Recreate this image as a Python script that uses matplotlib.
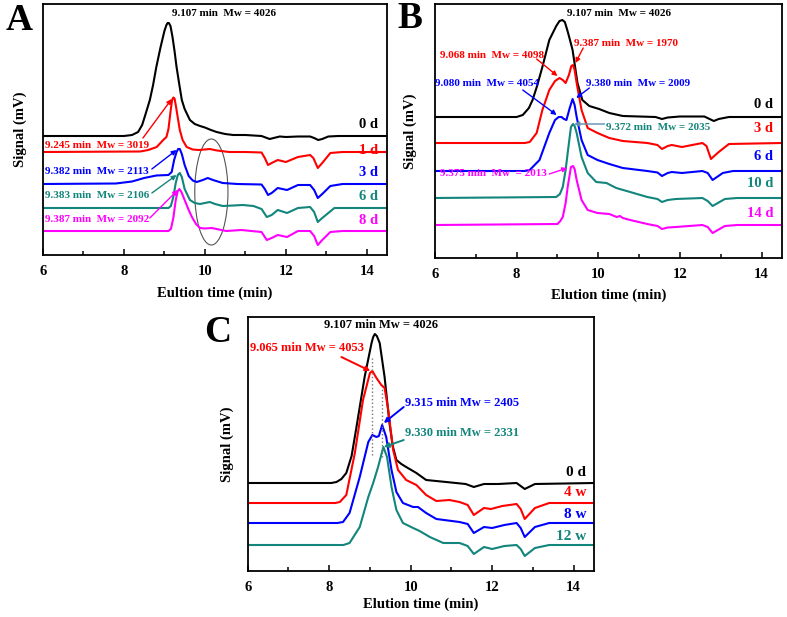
import matplotlib.pyplot as plt
from matplotlib.patches import Ellipse
from matplotlib.ticker import MultipleLocator

plt.rcParams['font.family'] = ['Liberation Serif', 'DejaVu Serif']
plt.rcParams['font.weight'] = 'bold'

TEAL = '#12857c'
MAG = '#ff00ff'

# ---- panel A : aging in days ----
a0_t = [6.0, 8.0, 8.2, 8.35, 8.45, 8.55, 8.64, 8.72, 8.8, 8.9, 9.0, 9.05, 9.08, 9.11, 9.15, 9.2, 9.25, 9.3,
        9.37, 9.43, 9.5, 9.63, 9.75, 9.88, 10.0, 10.15, 10.29, 10.5, 10.7, 11.0, 11.4, 11.5, 11.6, 11.7,
        11.85, 12.0, 12.3, 12.6, 12.7, 12.8, 12.9, 13.05, 13.3, 14.5]
a0_s = [119, 119, 120, 123, 130, 143, 155, 170, 188, 207, 224, 230, 232, 232, 229, 218, 204, 188,
        170, 155, 146, 135, 131, 129, 127.5, 125, 123, 121, 120, 120, 119, 117.5, 116, 117,
        118.5, 118, 118.5, 118.5, 117, 115, 116, 118.5, 119, 119]
a1_t = [6.0, 8.4, 8.6, 8.81, 8.97, 9.05, 9.1, 9.15, 9.19, 9.22, 9.25, 9.28, 9.32, 9.38, 9.45, 9.55, 9.7,
        9.85, 10.0, 10.12, 10.3, 10.6, 11.0, 11.4, 11.48, 11.56, 11.65, 11.8, 12.0, 12.3, 12.6, 12.68,
        12.79, 12.9, 13.1, 13.4, 14.5]
a1_s = [103, 103.5, 105, 108, 115, 118, 126, 143, 155, 157.5, 156.5, 150, 140, 125, 115, 108, 105.5,
        105, 105.5, 106, 104.5, 103, 103, 102.5, 97, 90, 92, 95, 93, 98, 100, 97,
        87, 92, 102, 103, 103]
a3_t = [6.0, 7.8, 8.2, 8.5, 8.8, 9.1, 9.18, 9.24, 9.3, 9.34, 9.38, 9.43, 9.5, 9.6, 9.7, 9.8, 9.95, 10.07,
        10.2, 10.44, 10.8, 11.4, 11.48, 11.56, 11.65, 11.8, 12.03, 12.3, 12.6, 12.7, 12.79, 12.9, 13.1,
        13.4, 14.5]
a3_s = [71, 71.5, 73.5, 77, 79.5, 80, 83, 95, 103, 106, 106, 101, 90, 79, 74.5, 73, 75, 77,
        75, 72, 71, 70.5, 66, 60, 62, 67, 65, 70, 70, 65, 57, 61, 69,
        71, 71]
a6_t = [6.0, 9.1, 9.16, 9.22, 9.28, 9.33, 9.38, 9.43, 9.5, 9.63, 9.75, 9.88, 10.0, 10.12, 10.25, 10.44,
        10.7, 10.94, 11.2, 11.4, 11.53, 11.65, 11.8, 12.03, 12.3, 12.6, 12.7, 12.79, 12.9, 13.2, 14.5]
a6_s = [47, 47, 49, 58, 72, 80, 82, 78, 66, 55, 52, 51, 52, 53, 51, 49,
        49.5, 50, 49, 46, 38, 40, 45, 42, 47, 48, 43, 33, 37, 47, 47]
a8_t = [6.0, 9.1, 9.16, 9.22, 9.28, 9.33, 9.37, 9.42, 9.5, 9.6, 9.68, 9.78, 9.88, 10.0, 10.17, 10.35,
        10.53, 10.9, 11.4, 11.53, 11.65, 11.8, 12.03, 12.3, 12.6, 12.7, 12.79, 12.9, 13.1, 13.4, 14.5]
a8_s = [24, 24, 26, 37, 55, 64, 66, 63, 55, 45, 38, 31, 27, 26.5, 27, 25.5,
        24, 25, 23, 15, 17, 20, 18, 24, 24, 19, 10, 15, 23, 24, 24]

# ---- panel B : aging in days ----
b0_t = [6.0, 8.0, 8.15, 8.3, 8.39, 8.5, 8.63, 8.8, 8.97, 9.05, 9.12, 9.18, 9.24, 9.3, 9.37, 9.49, 9.61,
        9.78, 10.02, 10.27, 10.6, 11.0, 11.4, 11.56, 11.7, 12.0, 12.6, 12.7, 12.83, 12.95, 13.2, 14.5]
b0_s = [141, 141, 143, 150, 158, 172, 191, 218, 232, 237, 238, 236, 228, 219, 208, 175, 158,
        152, 149, 145, 142, 141.5, 141, 139, 140.5, 141.5, 141.5, 139.5, 137, 139, 141, 141]
b3_t = [6.0, 8.2, 8.32, 8.49, 8.63, 8.8, 8.94, 9.05, 9.13, 9.2, 9.28, 9.34, 9.38, 9.42, 9.47, 9.59, 9.74,
        9.98, 10.27, 10.6, 11.2, 11.45, 11.56, 11.7, 11.8, 12.05, 12.55, 12.65, 12.76, 12.95, 13.2, 14.5]
b3_s = [115, 115, 116, 125, 148, 168, 177, 180, 178, 175, 183, 192, 193, 188, 175, 148, 130,
        125, 120, 117, 115, 113, 109, 112, 113, 111, 115, 112, 99, 106, 114, 115]
b6_t = [6.0, 8.2, 8.32, 8.56, 8.8, 8.94, 9.03, 9.1, 9.16, 9.22, 9.3, 9.37, 9.42, 9.47, 9.59, 9.74, 9.98,
        10.27, 10.6, 11.2, 11.45, 11.56, 11.7, 11.8, 12.05, 12.55, 12.68, 12.8, 13.05, 13.3, 14.5]
b6_s = [87, 87, 88, 98, 125, 138, 141, 141, 139, 138, 150, 159, 153, 141, 118, 103, 98,
        94, 90, 87, 85.5, 82, 85, 86, 85, 87, 85, 78, 85, 87, 87]
b10_t = [6.0, 8.97, 9.06, 9.13, 9.2, 9.25, 9.33, 9.38, 9.42, 9.47, 9.59, 9.74, 9.95, 10.2, 10.44, 10.78,
         11.2, 11.45, 11.56, 11.7, 11.9, 12.55, 12.68, 12.8, 13.1, 13.4, 14.5]
b10_s = [60, 61, 64, 71, 88, 105, 131, 134, 132, 125, 101, 85, 76, 75, 70, 66,
         61, 59, 56, 58, 59, 60, 57, 52, 59, 60, 60]
b14_t = [6.0, 9.0, 9.07, 9.13, 9.2, 9.25, 9.33, 9.38, 9.42, 9.47, 9.59, 9.74, 9.98, 10.27, 10.45, 10.53,
         10.6, 10.78, 11.2, 11.45, 11.56, 11.7, 11.9, 12.55, 12.68, 12.8, 13.1, 13.4, 14.5]
b14_s = [33, 34, 37, 41, 55, 71, 91, 92, 89, 78, 58, 48, 45, 44, 41, 42,
         40, 38, 34, 32, 29, 30.5, 31, 33, 31, 25, 32, 33, 33]

# ---- panel C : aging in weeks ----
c0_t = [6.0, 8.05, 8.18, 8.3, 8.42, 8.55, 8.67, 8.87, 9.04, 9.08, 9.12, 9.17, 9.24, 9.36, 9.48, 9.56, 9.65,
        9.77, 9.89, 10.14, 10.38, 10.87, 11.35, 11.55, 11.8, 12.15, 12.6, 12.8, 13.05, 14.5]
c0_s = [88, 88, 89, 92, 98, 115, 144, 194, 228, 234, 237, 235, 228, 194, 148, 125, 111,
        107, 104, 98, 91, 89, 87, 84, 87, 87, 88, 82, 87, 88]
c4_t = [6.0, 8.15, 8.26, 8.42, 8.63, 8.83, 9.0, 9.06, 9.16, 9.28, 9.36, 9.45, 9.57, 9.69, 9.89, 10.14,
        10.38, 10.63, 10.95, 11.2, 11.4, 11.55, 11.8, 11.97, 12.25, 12.6, 12.7, 12.8, 13.05, 13.4, 14.5]
c4_s = [68, 68, 69, 76, 118, 171, 198, 200, 193, 186, 183, 161, 121, 101, 91, 86,
        76, 70, 71, 69, 66, 56, 63, 62, 65, 67, 62, 52, 63, 68, 68]
c8_t = [6.0, 8.2, 8.34, 8.5, 8.75, 8.96, 9.06, 9.16, 9.22, 9.3, 9.4, 9.53, 9.65, 9.81, 10.06, 10.18,
        10.38, 10.63, 11.2, 11.4, 11.55, 11.8, 12.0, 12.3, 12.6, 12.7, 12.8, 13.05, 13.4, 14.5]
c8_s = [48, 48, 49, 58, 94, 129, 136, 134, 135, 146, 134, 101, 79, 68, 64, 64,
        58, 52, 49, 47, 38, 44, 43, 46, 48, 43, 34, 44, 48, 48]
c12_t = [6.0, 8.35, 8.5, 8.75, 8.96, 9.08, 9.2, 9.33, 9.42, 9.53, 9.65, 9.81, 10.06, 10.22, 10.47, 10.8,
         11.2, 11.4, 11.55, 11.8, 12.0, 12.3, 12.6, 12.7, 12.8, 13.05, 13.4, 14.5]
c12_s = [26, 26, 28, 44, 74, 88, 104, 124, 114, 84, 61, 48, 43, 40, 34, 28,
         28, 25, 17, 24, 22, 25, 26, 22, 15, 23, 26, 26]

W, H = 787, 617
fig = plt.figure(figsize=(W / 100, H / 100), dpi=100)


def make_axes(l, t, r, b):
    ax = fig.add_axes([l / W, 1 - b / H, (r - l) / W, (b - t) / H])
    ax.set_xlim(6, 14.5)
    ax.set_ylim(0, b - t)
    ax.xaxis.set_major_locator(MultipleLocator(2))
    ax.xaxis.set_minor_locator(MultipleLocator(1))
    ax.tick_params(axis='x', which='both', direction='in', top=False, labelsize=10.5, pad=7, width=1.1)
    ax.tick_params(axis='x', which='major', length=4)
    ax.tick_params(axis='x', which='minor', length=3)
    ax.tick_params(axis='y', left=False, labelleft=False)
    for lab in ax.get_xticklabels():
        lab.set_fontweight('bold')
    for s in ax.spines.values():
        s.set_linewidth(1.3)
    return ax


def curve(ax, t, s, c):
    ax.plot(t, s, color=c, lw=1.5, solid_joinstyle='round')


def note(ax, txt, x, y, c, size=8):
    ax.text(x, y, txt, color=c, fontsize=size, fontweight='bold', ha='left', va='center')


def arrow(ax, tail, tip, c, lw=1.0):
    ax.annotate('', xy=tip, xytext=tail,
                arrowprops=dict(arrowstyle='-|>', color=c, lw=lw, mutation_scale=7,
                                shrinkA=0, shrinkB=0))


# ---------------- A ----------------
axA = make_axes(43, 4, 387, 255)
for t, s, c in [(a0_t, a0_s, 'black'), (a1_t, a1_s, 'red'), (a3_t, a3_s, 'blue'),
                (a6_t, a6_s, TEAL), (a8_t, a8_s, MAG)]:
    curve(axA, t, s, c)
axA.add_patch(Ellipse((10.16, 63), 0.82, 106, fill=False, ec='#555555', lw=0.8))
axA.text(10.47, 241, '9.107 min  Mw = 4026', fontsize=8, fontweight='bold', ha='center', va='center')
for lab, y, c in [('0 d', 131, 'black'), ('1 d', 104, 'red'), ('3 d', 82, 'blue'),
                  ('6 d', 58, TEAL), ('8 d', 35, MAG)]:
    axA.text(14.27, y, lab, color=c, fontsize=10.5, fontweight='bold', ha='right', va='center')
note(axA, '9.245 min  Mw = 3019', 6.06, 109, 'red')
arrow(axA, (8.47, 117), (9.18, 156), 'red')
note(axA, '9.382 min  Mw = 2113', 6.06, 83, 'blue')
arrow(axA, (8.69, 86), (9.3, 105), 'blue')
note(axA, '9.383 min  Mw = 2106', 6.06, 60, TEAL)
arrow(axA, (8.69, 62), (9.3, 80), TEAL)
note(axA, '9.387 min  Mw = 2092', 6.06, 35, MAG)
arrow(axA, (8.64, 37), (9.33, 65), MAG)
axA.set_xlabel('Eultion time (min)', fontsize=10.5, fontweight='bold')
axA.xaxis.set_label_coords(0.5, -0.124)
axA.set_ylabel('Signal (mV)', fontsize=10.5, fontweight='bold')
axA.yaxis.set_label_coords(-0.047, 0.5)

# ---------------- B ----------------
axB = make_axes(435, 4, 782, 258)
for t, s, c in [(b0_t, b0_s, 'black'), (b3_t, b3_s, 'red'), (b6_t, b6_s, 'blue'),
                (b10_t, b10_s, TEAL), (b14_t, b14_s, MAG)]:
    curve(axB, t, s, c)
axB.text(10.51, 245, '9.107 min  Mw = 4026', fontsize=8, fontweight='bold', ha='center', va='center')
for lab, y, c in [('0 d', 154, 'black'), ('3 d', 130, 'red'), ('6 d', 102, 'blue'),
                  ('10 d', 75, TEAL), ('14 d', 45, MAG)]:
    axB.text(14.29, y, lab, color=c, fontsize=10.5, fontweight='bold', ha='right', va='center')
note(axB, '9.068 min  Mw = 4098', 6.12, 203, 'red')
arrow(axB, (8.49, 199), (9.0, 182), 'red')
note(axB, '9.387 min  Mw = 1970', 9.41, 215, 'red')
arrow(axB, (9.63, 210), (9.44, 195), 'red')
note(axB, '9.080 min  Mw = 4054', 6.0, 175, 'blue')
arrow(axB, (8.15, 168), (8.98, 143), 'blue')
note(axB, '9.380 min  Mw = 2009', 9.71, 175, 'blue')
arrow(axB, (9.78, 170), (9.46, 160), 'blue')
note(axB, '9.372 min  Mw = 2035', 10.2, 130, TEAL)
arrow(axB, (10.15, 134), (9.41, 134), '#5f8db0')
note(axB, '9.375 min  Mw  = 2013', 6.12, 85, MAG)
arrow(axB, (8.8, 84), (9.24, 90), MAG)
axB.set_xlabel('Elution time (min)', fontsize=10.5, fontweight='bold')
axB.xaxis.set_label_coords(0.5, -0.122)
axB.set_ylabel('Signal (mV)', fontsize=10.5, fontweight='bold')
axB.yaxis.set_label_coords(-0.052, 0.5)

# ---------------- C ----------------
axC = make_axes(247.7, 317, 594, 571)
for t, s, c in [(c0_t, c0_s, 'black'), (c4_t, c4_s, 'red'), (c8_t, c8_s, 'blue'),
                (c12_t, c12_s, TEAL)]:
    curve(axC, t, s, c)
axC.plot([9.06, 9.06], [116, 214], ls=':', color='#777777', lw=1)
axC.plot([9.30, 9.30], [114, 184], ls=':', color='#777777', lw=1)
axC.text(9.28, 246, '9.107 min Mw = 4026', fontsize=9, fontweight='bold', ha='center', va='center')
for lab, y, c in [('0 d', 99, 'black'), ('4 w', 78, 'red'), ('8 w', 57, 'blue'), ('12 w', 35, TEAL)]:
    axC.text(14.31, y, lab, color=c, fontsize=11, fontweight='bold', ha='right', va='center')
note(axC, '9.065 min Mw = 4053', 6.06, 223, 'red', 9)
arrow(axC, (8.3, 214), (9.01, 200), 'red', 1.4)
note(axC, '9.315 min Mw = 2405', 9.85, 168, 'blue', 9)
arrow(axC, (9.83, 164), (9.34, 148), 'blue', 1.4)
note(axC, '9.330 min Mw = 2331', 9.85, 138, TEAL, 9)
arrow(axC, (9.83, 131), (9.34, 124), TEAL, 1.4)
axC.set_xlabel('Elution time (min)', fontsize=10.5, fontweight='bold')
axC.xaxis.set_label_coords(0.5, -0.104)
axC.set_ylabel('Signal (mV)', fontsize=10.5, fontweight='bold')
axC.yaxis.set_label_coords(-0.04, 0.5)

# panel letters
fig.text(19 / W, 1 - 20 / H, 'A', fontsize=27, fontweight='bold', ha='center', va='center')
fig.text(410 / W, 1 - 19 / H, 'B', fontsize=27, fontweight='bold', ha='center', va='center')
fig.text(218 / W, 1 - 332 / H, 'C', fontsize=27, fontweight='bold', ha='center', va='center')

fig.savefig('out.png', dpi=100)
